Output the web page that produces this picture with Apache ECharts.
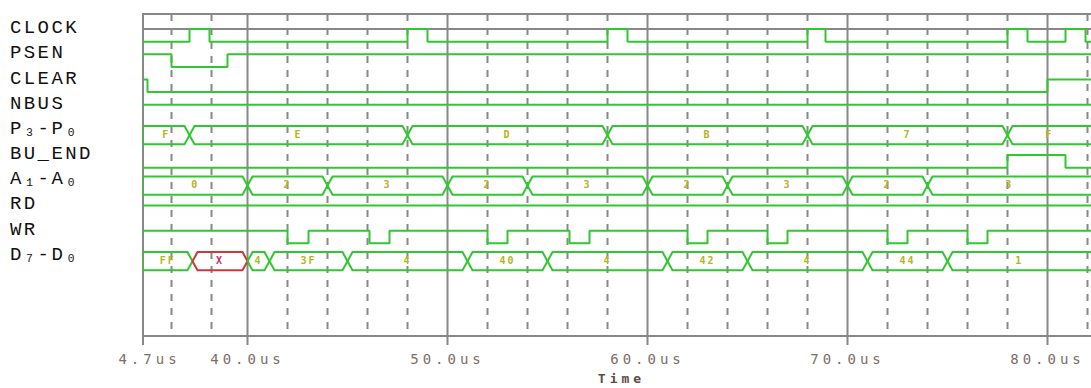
<!DOCTYPE html>
<html><head><meta charset="utf-8">
<script src="https://cdn.jsdelivr.net/npm/echarts@6/dist/echarts.min.js"></script>
<style>
html,body{margin:0;padding:0;background:#fff;}
#c{width:1091px;height:388px;}
#c text[style*="19px"]{letter-spacing:2.4px;}
#c text[style*="14px"]{letter-spacing:4px;}
#c text[style*="13px"]{letter-spacing:4px;}
#c text[style*="10px"]{letter-spacing:2px;}
</style></head><body><div id="c"></div>
<script>
// ---- data ----
const signalNames = ['CLOCK','PSEN','CLEAR','NBUS','P\u2083-P\u2080','BU_END','A\u2081-A\u2080','RD','WR','D\u2087-D\u2080'];
const timeMin = 34.775, timeMax = 82.625;

const clockStart = 0;
const clockEdges = [37.1, 38.1, 48.0, 49.0, 58.0, 59.0, 68.0, 68.9, 78.0, 79.0, 80.9, 81.9];
const psenStart = 1;
const psenEdges = [36.2, 39.0];
const clearStart = 1;
const clearEdges = [35.0, 80.0];
const nbusStart = 1;
const nbusEdges = [];
const buEndStart = 0;
const buEndEdges = [78.0, 80.9];
const rdStart = 1;
const rdEdges = [];
const wrStart = 1;
const wrEdges = [42.0, 43.05, 46.1, 47.1, 52.0, 53.0, 56.1, 57.1, 62.0, 63.0, 66.0, 67.0, 72.0, 73.0, 76.0, 77.0];

const pBusTimes = [37.1, 48, 58, 68, 78];
const pBusValues = ['F','E','D','B','7','F'];
const aBusTimes = [40, 44, 50, 54, 60, 64, 70, 74];
const aBusValues = ['0','2','3','2','3','2','3','2','3'];
const dBusTimes = [37.25, 40.0, 41.1, 45, 51, 55, 61, 65, 71, 75];
const dBusValues = ['FF','X','4','3F','4','40','4','42','4','44','1'];
const dBusUnknown = [1];

const majorTimes = [40, 50, 60, 70, 80];
const minorTimes = [36.2, 38.2, 42, 44, 46, 48, 52, 54, 56, 58, 62, 64, 66, 68, 72, 74, 76, 78, 82];
const tickLabelValues = [35.1, 40, 50, 60, 70, 80];
const tickLabels = ['4.7us','40.0us','50.0us','60.0us','70.0us','80.0us'];

// ---- layout / style ----
const yMin = -0.6, yMax = 12.18;
const visibleMax = 82.175;
const LOW = 0.5, BUS_TOP = -0.15, BUS_BOT = 0.57, SLANT = 0.25, LABEL_V = 0.18, NAME_V = -0.04;
const TICK_LEN = 9;
const GREEN = '#30c830', RED = '#d03838', GRID = '#888888';
const BUS_TEXT = '#b4b41e', RED_TEXT = '#c0306a';

function levelY(row, lv) { return row + (lv ? 0 : LOW); }
function stepPoints(row, start, edges) {
  const pts = [[timeMin, levelY(row, start)]];
  let lv = start;
  edges.forEach(t => { lv = 1 - lv; pts.push([t, levelY(row, lv)]); });
  pts.push([timeMax, levelY(row, lv)]);
  return pts;
}
function busData(times) {
  const b = [timeMin].concat(times, [timeMax]);
  const out = [];
  for (let i = 0; i < b.length - 1; i++) out.push([b[i], b[i + 1]]);
  return out;
}
function busRenderer(row, values, unknown) {
  return function (params, api) {
    const i = params.dataIndex;
    const t0 = api.value(0), t1 = api.value(1);
    const top = row + BUS_TOP, bot = row + BUS_BOT, mid = (top + bot) / 2;
    const c = (t, v) => api.coord([t, v]);
    const first = i === 0, last = i === values.length - 1;
    const pts = [];
    if (first) pts.push(c(t0, top)); else { pts.push(c(t0, mid)); pts.push(c(t0 + SLANT, top)); }
    if (last) { pts.push(c(t1, top)); pts.push(c(t1, bot)); }
    else { pts.push(c(t1 - SLANT, top)); pts.push(c(t1, mid)); pts.push(c(t1 - SLANT, bot)); }
    if (first) pts.push(c(t0, bot)); else pts.push(c(t0 + SLANT, bot));
    const bad = unknown.indexOf(i) >= 0;
    const lx = (Math.max(t0, timeMin) + Math.min(t1, visibleMax)) / 2;
    const lp = c(lx, row + LABEL_V);
    return { type: 'group', children: [
      { type: 'polygon', shape: { points: pts }, style: { fill: 'none', stroke: bad ? RED : GREEN, lineWidth: 2 } },
      { type: 'text', style: { text: values[i], x: lp[0], y: lp[1], align: 'center', verticalAlign: 'middle',
        fill: bad ? RED_TEXT : BUS_TEXT, fontFamily: 'DejaVu Sans Mono', fontSize: 10, fontWeight: 'bold' } }
    ] };
  };
}

const digital = [
  [0, clockStart, clockEdges], [1, psenStart, psenEdges], [2, clearStart, clearEdges],
  [3, nbusStart, nbusEdges], [5, buEndStart, buEndEdges], [7, rdStart, rdEdges], [8, wrStart, wrEdges]
];
const buses = [
  [4, pBusTimes, pBusValues, []], [6, aBusTimes, aBusValues, []], [9, dBusTimes, dBusValues, dBusUnknown]
];

const series = [];
// kind: 2 = major grid line + tick, 1 = tick only (left edge), 0 = dashed minor
series.push({
  type: 'custom', z: 1, silent: true, clip: false,
  data: majorTimes.map(t => [t, 2]).concat([[timeMin, 1]], minorTimes.map(t => [t, 0])),
  renderItem: function (p, api) {
    const t = api.value(0), kind = api.value(1);
    const a = api.coord([t, yMin]), b = api.coord([t, yMax]);
    if (kind === 1) {
      return { type: 'line', shape: { x1: b[0], y1: b[1], x2: b[0], y2: b[1] + TICK_LEN },
        style: { stroke: GRID, lineWidth: 2 } };
    }
    if (t > visibleMax + 1) return null;
    return { type: 'line', shape: { x1: a[0], y1: a[1], x2: b[0], y2: b[1] + (kind === 2 ? TICK_LEN : 0) },
      style: { stroke: GRID, lineWidth: 2, lineDash: kind === 2 ? null : [7, 7] } };
  }
});
digital.forEach(d => series.push({
  type: 'line', step: 'end', z: 3, silent: true, showSymbol: false, symbol: 'none', clip: true,
  lineStyle: { color: GREEN, width: 2 }, data: stepPoints(d[0], d[1], d[2])
}));
buses.forEach(b => series.push({
  type: 'custom', z: 3, silent: true, clip: true,
  data: busData(b[1]), renderItem: busRenderer(b[0], b[2], b[3])
}));

const chart = echarts.init(document.getElementById('c'), null, { renderer: 'svg' });
chart.setOption({
  animation: false,
  backgroundColor: '#ffffff',
  grid: { left: 143, top: 14, width: 957, height: 322, containLabel: false, outerBoundsMode: 'none',
    show: true, borderColor: GRID, borderWidth: 2, backgroundColor: 'transparent' },
  xAxis: {
    type: 'value', min: timeMin, max: timeMax,
    name: 'Time', nameLocation: 'middle', nameGap: 36,
    nameTextStyle: { fontFamily: 'DejaVu Sans Mono', fontSize: 13, fontWeight: 'bold', color: '#5b4d44' },
    axisLine: { show: true, lineStyle: { color: GRID, width: 2 } },
    axisTick: { show: false },
    axisLabel: {
      customValues: tickLabelValues, margin: 16,
      fontFamily: 'DejaVu Sans Mono', fontSize: 14, color: '#7a6e66',
      formatter: function (v) {
        for (let i = 0; i < tickLabelValues.length; i++) if (Math.abs(tickLabelValues[i] - v) < 1e-6) return tickLabels[i];
        return '';
      }
    },
    splitLine: { show: false }
  },
  yAxis: {
    type: 'value', inverse: true, min: yMin, max: yMax,
    axisLine: { show: true, lineStyle: { color: GRID, width: 2 } },
    axisTick: { show: false },
    splitLine: { show: false },
    axisLabel: {
      customValues: signalNames.map((n, i) => i + NAME_V),
      align: 'left', margin: 133,
      fontFamily: 'Liberation Mono', fontSize: 19, color: '#111111',
      formatter: function (v) { const i = Math.round(v); return signalNames[i] || ''; }
    }
  },
  series: series
});
</script></body></html>
